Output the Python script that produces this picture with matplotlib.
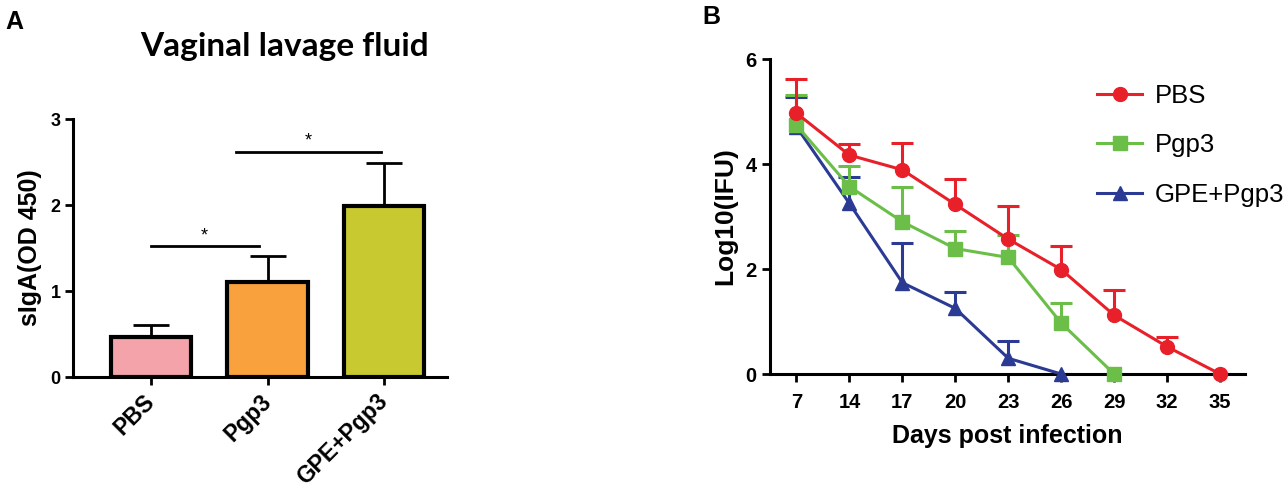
import matplotlib
matplotlib.use("Agg")
import matplotlib.pyplot as plt
import numpy as np

plt.rcParams['font.family'] = ['Liberation Sans', 'DejaVu Sans']

# panel A data
groups = ['PBS', 'Pgp3', 'GPE+Pgp3']
siga_mean = [0.47, 1.10, 1.99]
siga_err = [0.14, 0.31, 0.50]
bar_colors = ['#F4A3AA', '#F8A13D', '#C8C930']

# panel B data
days = ['7', '14', '17', '20', '23', '26', '29', '32', '35']
pbs = [4.97, 4.17, 3.89, 3.23, 2.57, 1.99, 1.12, 0.52, 0.0]
pbs_err = [0.65, 0.22, 0.52, 0.48, 0.64, 0.45, 0.48, 0.19, 0.0]
pgp3 = [4.74, 3.57, 2.90, 2.39, 2.22, 0.97, 0.0]
pgp3_err = [0.57, 0.39, 0.66, 0.34, 0.43, 0.39, 0.0]
gpe = [4.71, 3.25, 1.74, 1.25, 0.30, 0.0]
gpe_err = [0.57, 0.51, 0.75, 0.32, 0.32, 0.0]


def upper_errorbar(ax, xs, ys, errs, color, lw, cap, z):
    # one-sided (upward) error bars, no cap at the bottom
    eb = ax.errorbar(xs, ys, yerr=[np.zeros(len(ys)), errs], fmt='none', ecolor=color,
                     elinewidth=lw, capsize=cap, capthick=lw, zorder=z)
    eb[1][0].set_visible(False)
    return eb


fig = plt.figure(figsize=(12.88, 4.92), dpi=100)

# ---- A: bar chart
ax1 = fig.add_axes([0.0567, 0.2337, 0.2904, 0.5244])
x = np.arange(len(groups))
ax1.bar(x, siga_mean, width=0.69, color=bar_colors, edgecolor='black', linewidth=3, zorder=2)
upper_errorbar(ax1, x, siga_mean, siga_err, 'black', 2, 13, 1)
ax1.set_xlim(-0.67, 2.54)
ax1.set_ylim(0, 3)
ax1.set_yticks([0, 1, 2, 3])
ax1.set_xticks(x)
ax1.set_xticklabels(groups, rotation=45, ha='right', va='center', rotation_mode='anchor',
                    fontsize=16.5, fontweight='bold')
for lab in ax1.get_yticklabels():
    lab.set_fontweight('bold')
ax1.tick_params(axis='y', labelsize=13, width=2, length=6, pad=3)
ax1.tick_params(axis='x', width=2, length=6, pad=9)
ax1.spines['top'].set_visible(False)
ax1.spines['right'].set_visible(False)
ax1.spines['left'].set_linewidth(2.2)
ax1.spines['bottom'].set_linewidth(2.2)
ax1.set_ylabel('sIgA(OD 450)', fontsize=18, fontweight='bold', labelpad=6)

# significance lines
ax1.plot([0, 0.93], [1.52, 1.52], color='black', lw=2, clip_on=False)
ax1.text(0.46, 1.54, '*', ha='center', va='bottom', fontsize=13)
ax1.plot([0.73, 1.97], [2.62, 2.62], color='black', lw=2, clip_on=False)
ax1.text(1.35, 2.64, '*', ha='center', va='bottom', fontsize=13)

fig.text(0.221, 0.905, 'Vaginal lavage fluid', ha='center', va='center', fontsize=24,
         fontweight='bold', family='Lato')
fig.text(0.004, 0.955, 'A', ha='left', va='center', fontsize=18, fontweight='bold')

# ---- B: line chart
ax2 = fig.add_axes([0.5978, 0.2398, 0.3688, 0.6402])
red = '#E8202A'
green = '#6BBF48'
blue = '#2B3A93'
series = [
    (gpe, gpe_err, blue, '^', 'GPE+Pgp3'),
    (pgp3, pgp3_err, green, 's', 'Pgp3'),
    (pbs, pbs_err, red, 'o', 'PBS'),
]
handles = {}
for vals, errs, col, mk, name in series:
    xi = np.arange(len(vals))
    upper_errorbar(ax2, xi, vals, errs, col, 2.2, 8, 2)
    h, = ax2.plot(xi, vals, color=col, lw=2.2, marker=mk, markersize=10, label=name,
                  clip_on=False, zorder=3)
    handles[name] = h

ax2.set_xlim(-0.5, 8.47)
ax2.set_ylim(0, 6)
ax2.set_yticks([0, 2, 4, 6])
ax2.set_xticks(np.arange(len(days)))
ax2.set_xticklabels(days)
for lab in ax2.get_xticklabels() + ax2.get_yticklabels():
    lab.set_fontweight('bold')
ax2.tick_params(labelsize=14.5, width=2, length=6)
ax2.tick_params(axis='x', pad=8)
ax2.spines['top'].set_visible(False)
ax2.spines['right'].set_visible(False)
ax2.spines['left'].set_linewidth(2.2)
ax2.spines['bottom'].set_linewidth(2.2)
ax2.set_xlabel('Days post infection', fontsize=18, fontweight='bold', labelpad=8)
ax2.set_ylabel('Log10(IFU)', fontsize=19, fontweight='bold', labelpad=6)

fig.legend([handles['PBS'], handles['Pgp3'], handles['GPE+Pgp3']], ['PBS', 'Pgp3', 'GPE+Pgp3'],
           loc='upper left', bbox_to_anchor=(0.852, 0.83), frameon=False, fontsize=18.5,
           borderaxespad=0, borderpad=0, handlelength=1.75, handletextpad=0.47,
           labelspacing=1.0)
fig.text(0.545, 0.965, 'B', ha='left', va='center', fontsize=18, fontweight='bold')

fig.savefig('out.png', dpi=100)
